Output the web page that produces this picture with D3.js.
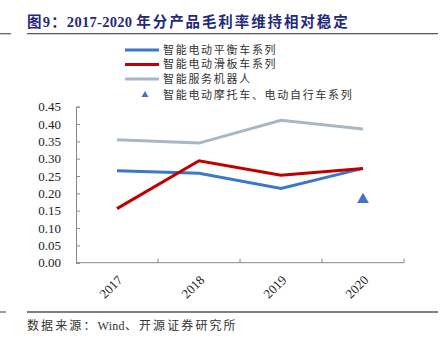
<!DOCTYPE html>
<html>
<head>
<meta charset="utf-8">
<script src="https://cdn.jsdelivr.net/npm/d3@7"></script>
<style>
  body { margin: 0; background: #fff; }
  svg { display: block; }
</style>
</head>
<body>
<div id="chart"></div>
<script>
const years = ['2017', '2018', '2019', '2020'];
const balanceCar = [0.265, 0.258, 0.214, 0.272];
const scooter = [0.156, 0.294, 0.252, 0.272];
const robot = [0.355, 0.345, 0.411, 0.386];
const motoBike = [{ year: '2020', value: 0.182 }];
const yTicks = [0, 0.05, 0.10, 0.15, 0.20, 0.25, 0.30, 0.35, 0.40, 0.45];

const lineSeries = [
  { name: '智能电动平衡车系列', values: balanceCar, color: '#3a78c8' },
  { name: '智能电动滑板车系列', values: scooter, color: '#c00000' },
  { name: '智能服务机器人', values: robot, color: '#a5b9c5' }
];
const triName = '智能电动摩托车、电动自行车系列';
const triColor = '#4472c4';

// text pieces: [text, letter-spacing]
const titleParts = [['图9：', 1.2], ['2017-2020 ', 0.3], ['年分产品毛利率维持相对稳定', 1.9]];
const sourceParts = [['数据来源：', 2.1], ['Wind', 0.3], ['、开源证券研究所', 2.1]];

const width = 446, height = 352;
const margin = { top: 106.7, right: 42, bottom: 89.3, left: 76 };
const plotW = width - margin.left - margin.right;
const plotH = height - margin.top - margin.bottom;

const svg = d3.select('#chart').append('svg')
  .attr('width', width)
  .attr('height', height);

// title + rules
svg.append('line').attr('x1', 0).attr('x2', 11).attr('y1', 33.7).attr('y2', 33.7)
  .attr('stroke', '#666').attr('stroke-width', 1.3);
svg.append('line').attr('x1', 27).attr('x2', 438).attr('y1', 33.7).attr('y2', 33.7)
  .attr('stroke', '#555').attr('stroke-width', 1.3);
svg.append('text')
  .attr('x', 27).attr('y', 27)
  .attr('fill', '#1f2a7a')
  .style('font-family', '"Liberation Serif", "Noto Sans CJK SC", serif')
  .style('font-weight', 'bold')
  .style('font-size', '14.5px')
  .selectAll('tspan')
  .data(titleParts)
  .join('tspan')
  .style('letter-spacing', d => `${d[1]}px`)
  .text(d => d[0]);

svg.append('line').attr('x1', 0).attr('x2', 6).attr('y1', 312).attr('y2', 312)
  .attr('stroke', '#666').attr('stroke-width', 1.3);
svg.append('line').attr('x1', 27).attr('x2', 438).attr('y1', 312).attr('y2', 312)
  .attr('stroke', '#555').attr('stroke-width', 1.3);
svg.append('text')
  .attr('x', 27).attr('y', 330)
  .attr('fill', '#333')
  .style('font-family', '"Liberation Serif", "Noto Sans CJK SC", serif')
  .style('font-size', '12px')
  .selectAll('tspan')
  .data(sourceParts)
  .join('tspan')
  .style('letter-spacing', d => `${d[1]}px`)
  .text(d => d[0]);

const g = svg.append('g').attr('transform', `translate(${margin.left},${margin.top})`);

const x = d3.scaleBand().domain(years).range([0, plotW]);
const y = d3.scaleLinear().domain([0, 0.45]).range([plotH, 0]);

// y axis
const yAxis = d3.axisLeft(y).tickValues(yTicks).tickFormat(d3.format('.2f'))
  .tickSizeInner(-4).tickSizeOuter(-4).tickPadding(15);
g.append('g').call(yAxis)
  .call(s => s.select('.domain').attr('stroke', '#888'))
  .call(s => s.selectAll('.tick line').attr('stroke', '#888'))
  .call(s => s.selectAll('.tick text')
    .attr('fill', '#222')
    .style('font-family', '"Liberation Serif", serif')
    .style('font-size', '13px'));

// x axis with boundary ticks
const xg = g.append('g').attr('transform', `translate(0,${plotH})`);
xg.append('line').attr('x1', 0).attr('x2', plotW).attr('stroke', '#888');
xg.selectAll('line.bt')
  .data(years)
  .join('line')
  .attr('class', 'bt')
  .attr('x1', d => x(d) + x.bandwidth()).attr('x2', d => x(d) + x.bandwidth())
  .attr('y1', 0).attr('y2', -4)
  .attr('stroke', '#888');
xg.selectAll('text')
  .data(years)
  .join('text')
  .attr('transform', d => `translate(${x(d) + x.bandwidth() / 2 + 3},${15}) rotate(-45)`)
  .attr('text-anchor', 'end')
  .attr('dy', '0.35em')
  .attr('fill', '#222')
  .style('font-family', '"Liberation Serif", serif')
  .style('font-size', '13px')
  .text(d => d);

// lines
const line = d3.line()
  .x((d, i) => x(years[i]) + x.bandwidth() / 2)
  .y(d => y(d));

g.selectAll('path.series')
  .data(lineSeries)
  .join('path')
  .attr('class', 'series')
  .attr('fill', 'none')
  .attr('stroke', d => d.color)
  .attr('stroke-width', 3)
  .attr('d', d => line(d.values));

// triangle marker
g.selectAll('path.tri')
  .data(motoBike)
  .join('path')
  .attr('class', 'tri')
  .attr('transform', d => `translate(${x(d.year) + x.bandwidth() / 2},${y(d.value)})`)
  .attr('d', d3.symbol(d3.symbolTriangle, 60))
  .attr('fill', triColor);

// legend
const legend = svg.append('g').attr('transform', 'translate(125,50)');
const rowH = 14.5;
lineSeries.forEach((s, i) => {
  const row = legend.append('g').attr('transform', `translate(0,${i * rowH})`);
  row.append('line').attr('x1', 0).attr('x2', 34).attr('stroke', s.color).attr('stroke-width', 3);
  row.append('text').attr('x', 38).attr('dy', '0.35em')
    .attr('fill', '#333')
    .style('font-family', '"Noto Sans CJK SC", sans-serif')
    .style('font-size', '11px')
    .style('letter-spacing', '1.7px')
    .text(s.name);
});
const triRow = legend.append('g').attr('transform', `translate(0,${3 * rowH + 1.5})`);
triRow.append('path').attr('transform', 'translate(20,0)')
  .attr('d', d3.symbol(d3.symbolTriangle, 22)).attr('fill', triColor);
triRow.append('text').attr('x', 38).attr('dy', '0.35em')
  .attr('fill', '#333')
  .style('font-family', '"Noto Sans CJK SC", sans-serif')
  .style('font-size', '11px')
  .style('letter-spacing', '1.7px')
  .text(triName);
</script>
</body>
</html>
